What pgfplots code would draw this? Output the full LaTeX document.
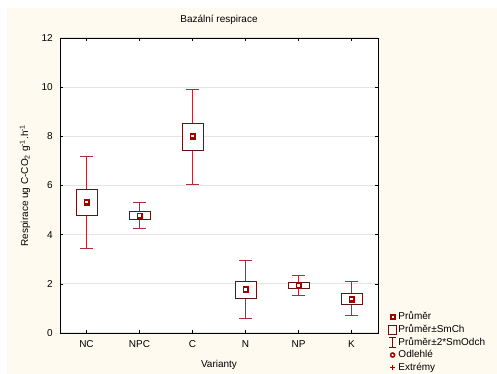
\documentclass[border=0pt]{standalone}
\usepackage{pgfplots}
\pgfplotsset{compat=1.18}
\usepgfplotslibrary{statistics}
\usepackage{fontspec}
\setmainfont{Liberation Sans}
\definecolor{cream}{RGB}{255,250,239}
\definecolor{boxc}{RGB}{95,20,20}
\definecolor{whisk}{RGB}{170,45,55}
\definecolor{meanc}{RGB}{160,0,0}
\definecolor{gridc}{RGB}{228,228,228}
\begin{document}
\begin{tikzpicture}
\useasboundingbox (0pt,0pt) rectangle (497pt,374pt);
\fill[white] (0pt,0pt) rectangle (497pt,374pt);
\fill[cream] (7pt,0pt) rectangle (497pt,366pt);
\begin{axis}[
  at={(60pt,41pt)}, anchor=south west,
  scale only axis, width=318pt, height=295pt,
  xmin=-0.5, xmax=5.5, ymin=0, ymax=12,
  xtick={0,1,2,3,4,5}, xticklabels={NC,NPC,C,N,NP,K},
  ytick={0,2,4,6,8,10,12},
  ymajorgrids, major grid style={draw=gridc, line width=1.3pt},
  tick align=inside, major tick length=3pt,
  axis line style={line width=0.8pt},
  tick style={black, line width=0.6pt},
  /pgf/number format/assume math mode=true,
  ticklabel style={font=\fontsize{10}{12}\selectfont},
  xticklabel style={anchor=base, yshift=-15pt},
  yticklabel style={anchor=east, inner sep=0pt, xshift=-7pt},
  title={Bazální respirace},
  title style={font=\fontsize{10}{12}\selectfont, at={(0.5,1)}, anchor=base, yshift=9.5pt},
  xlabel={Varianty},
  xlabel style={font=\fontsize{10}{12}\selectfont, at={(rel axis cs:0.5,0)}, anchor=center, yshift=-32pt},
  ylabel={Respirace ug C-CO\textsubscript{2} g\textsuperscript{-1}.h\textsuperscript{-1}},
  ylabel style={font=\fontsize{10}{12}\selectfont, at={(rel axis cs:0,0.5)}, anchor=center, yshift=35pt},
  axis background/.style={fill=white},
  boxplot/draw direction=y,
  boxplot/every box/.style={draw=boxc, fill=white, line width=0.8pt},
  boxplot/every whisker/.style={draw=whisk, line width=0.8pt},
  boxplot/every median/.style={draw=none},
  legend style={at={(1.0314,0.0746)}, anchor=north west, draw=none, fill=none,
    font=\fontsize{10}{12}\selectfont, inner sep=0pt, row sep=1.2pt,
    nodes={inner ysep=0pt, inner xsep=1.5pt, text height=8.5pt, text depth=3pt}},
  legend cell align=left,
]
\addlegendimage{legend image code/.code={
  \fill[meanc] (2pt,-2.5pt) rectangle (7pt,2.5pt);
  \fill[white] (3.8pt,-0.7pt) rectangle (5.2pt,0.7pt);}}
\addlegendentry{Průměr}
\addlegendimage{legend image code/.code={
  \draw[boxc, line width=0.8pt] (0.5pt,-4.5pt) rectangle (8.5pt,4.5pt);}}
\addlegendentry{Průměr±SmCh}
\addlegendimage{legend image code/.code={
  \draw[boxc, line width=0.8pt] (4.5pt,-5pt) -- (4.5pt,5pt)
     (1pt,-5pt) -- (8pt,-5pt) (1pt,5pt) -- (8pt,5pt);}}
\addlegendentry{Průměr±2*SmOdch}
\addlegendimage{legend image code/.code={
  \fill[meanc] (4.5pt,0pt) circle (2.6pt);
  \fill[white] (4.5pt,0pt) circle (0.9pt);}}
\addlegendentry{Odlehlé}
\addlegendimage{legend image code/.code={
  \draw[meanc, line width=0.8pt] (2pt,0pt) -- (7pt,0pt) (4.5pt,-2.5pt) -- (4.5pt,2.5pt);}}
\addlegendentry{Extrémy}

\addplot[boxplot prepared={draw position=0, lower whisker=3.46, lower quartile=4.80, median=5.33, upper quartile=5.85, upper whisker=7.19, box extend=0.4, whisker extend=0.23}] coordinates {};
\addplot[boxplot prepared={draw position=1, lower whisker=4.25, lower quartile=4.63, median=4.77, upper quartile=4.95, upper whisker=5.32, box extend=0.4, whisker extend=0.23}] coordinates {};
\addplot[boxplot prepared={draw position=2, lower whisker=6.06, lower quartile=7.42, median=8.01, upper quartile=8.53, upper whisker=9.90, box extend=0.4, whisker extend=0.23}] coordinates {};
\addplot[boxplot prepared={draw position=3, lower whisker=0.61, lower quartile=1.42, median=1.78, upper quartile=2.10, upper whisker=2.94, box extend=0.4, whisker extend=0.23}] coordinates {};
\addplot[boxplot prepared={draw position=4, lower whisker=1.51, lower quartile=1.80, median=1.94, upper quartile=2.05, upper whisker=2.33, box extend=0.4, whisker extend=0.23}] coordinates {};
\addplot[boxplot prepared={draw position=5, lower whisker=0.70, lower quartile=1.18, median=1.38, upper quartile=1.60, upper whisker=2.10, box extend=0.4, whisker extend=0.23}] coordinates {};

\addplot[only marks, mark=square*, mark size=2.7pt, mark options={draw=meanc, fill=meanc, line width=0.3pt}]
  coordinates {(0,5.33) (1,4.77) (2,8.01) (3,1.78) (4,1.94) (5,1.38)};
\addplot[only marks, mark=square*, mark size=0.9pt, mark options={draw=white, fill=white, line width=0pt}]
  coordinates {(0,5.33) (1,4.77) (2,8.01) (3,1.78) (4,1.94) (5,1.38)};
\end{axis}
\end{tikzpicture}
\end{document}
